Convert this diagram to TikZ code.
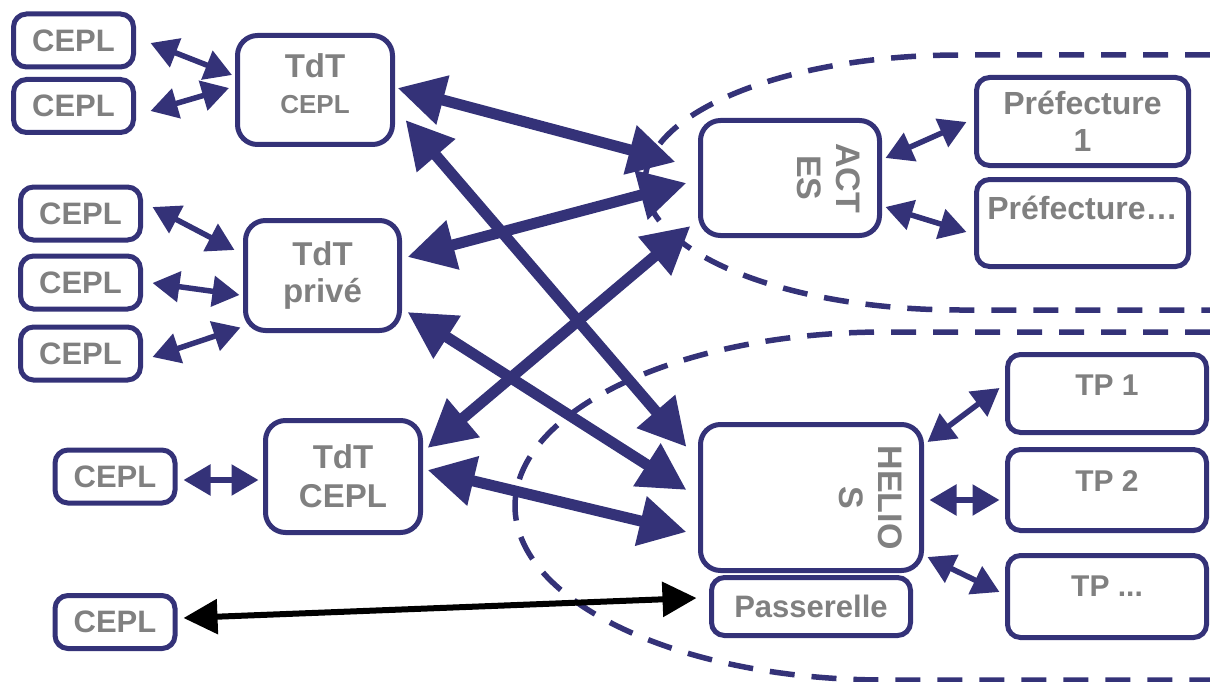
\documentclass[tikz,border=0pt]{standalone}
\usepackage{fontspec}
\setmainfont{Liberation Sans}
\usetikzlibrary{arrows.meta}
\definecolor{navy}{RGB}{52,50,120}
\definecolor{txtgray}{RGB}{128,128,128}

\begin{document}
\begin{tikzpicture}[x=1pt,y=-1pt,
  box/.style={draw=navy,line width=5pt,rounded corners=13pt,fill=white,text=txtgray,
    font=\bfseries\fontsize{31}{36}\selectfont,align=center,inner sep=2pt},
  bigbox/.style={box,rounded corners=20pt},
  thinlink/.style={draw=navy,line width=5.5pt,>={Triangle[length=27pt,width=30pt]},<->},
  thicklink/.style={draw=navy,line width=11pt,>={Triangle[length=47pt,width=48pt]},<->},
  gatelink/.style={draw=black,line width=6pt,>={Triangle[length=34pt,width=34pt]},<->},
  zone/.style={draw=navy,line width=5.5pt,dash pattern=on 25pt off 17pt}]
\useasboundingbox (0,0) rectangle (1210,682);

% draw the two dashed zones
\draw[zone] (1210,55) -- (960,55) arc[start angle=90,end angle=270,x radius=315pt,y radius=127.5pt] -- (1210,310);
\draw[zone] (1210,332) -- (885,332) arc[start angle=90,end angle=270,x radius=370pt,y radius=174pt] -- (1210,680);

% the CEPL boxes on the left
\foreach \n/\x/\y in {cepla/73.5/40.5,ceplb/73.5/106,ceplc/80.5/213.5,cepld/80.5/282.5,
	ceple/80.5/353.5,ceplf/115/476.5,ceplg/115/622}
	\node[box,minimum width=120pt,minimum height=53pt] (\n) at (\x,\y) {CEPL};

% the TdT boxes
\node[bigbox,minimum width=155pt,minimum height=109pt,text depth=12pt] (tdta) at (315,90)
	{\fontsize{33}{33}\selectfont TdT\\\fontsize{26}{26}\selectfont CEPL};
\node[bigbox,minimum width=154pt,minimum height=110pt,font=\bfseries\fontsize{33}{37}\selectfont] (tdtb) at (322.5,275.5) {TdT\\privé};
\node[bigbox,minimum width=155pt,minimum height=112pt,font=\bfseries\fontsize{33}{39}\selectfont] (tdtc) at (343,476.5) {TdT\\CEPL};

% ACTES and HELIOS
\node[bigbox,minimum width=179pt,minimum height=115pt] (actes) at (790,178) {};
\node[bigbox,minimum width=221pt,minimum height=146pt] (helios) at (811,497.5) {};
\node[box,minimum width=199pt,minimum height=58pt] (passer) at (811,606.5) {Passerelle};
\node[rotate=-90,anchor=north,align=center,inner sep=0pt,text=txtgray,
	font=\bfseries\fontsize{34}{39}\selectfont] (actestxt) at ([xshift=-22pt]actes.east) {ACT\\ES};
\node[rotate=-90,anchor=north,align=center,inner sep=0pt,text=txtgray,
	font=\bfseries\fontsize{34}{39}\selectfont] (heliostxt) at ([xshift=-22pt]helios.east) {HELIO\\S};

% the boxes on the right
\node[box,minimum width=212pt,minimum height=88pt,font=\bfseries\fontsize{32}{37}\selectfont] (prefa) at (1082.5,121.5) {Préfecture\\1};
\node[box,minimum width=212pt,minimum height=87pt,font=\bfseries\fontsize{32}{37}\selectfont,text depth=31pt] (prefb) at (1082.5,223) {Préfecture…};
\node[box,minimum width=199pt,minimum height=78pt,font=\bfseries\fontsize{30}{36}\selectfont,text depth=16pt] (tpa) at (1107,393.5) {TP 1};
\node[box,minimum width=199pt,minimum height=81pt,font=\bfseries\fontsize{30}{36}\selectfont,text depth=18pt] (tpb) at (1107,490) {TP 2};
\node[box,minimum width=199pt,minimum height=82pt,font=\bfseries\fontsize{30}{36}\selectfont,text depth=20pt] (tpc) at (1107,596.5) {TP ...};

% thin links
\draw[thinlink] ([shift={(14.5,2.5)}]cepla.east) -- ([shift={(-3,-15)}]tdta.west);
\draw[thinlink] ([shift={(14.5,5)}]ceplb.east) -- ([shift={(-6,-2)}]tdta.west);
\draw[thinlink] ([shift={(9.5,-6.5)}]ceplc.east) -- ([shift={(-8.5,-25.5)}]tdtb.west);
\draw[thinlink] ([shift={(9.5,0.5)}]cepld.east) -- ([shift={(-3.5,19.5)}]tdtb.west);
\draw[thinlink] ([shift={(9.5,3.5)}]ceple.east) -- ([shift={(-2.5,52)}]tdtb.west);
\draw[thinlink] ([shift={(6,3.5)}]ceplf.east) -- ([shift={(-4.5,3.5)}]tdtc.west);
\draw[thinlink] ([shift={(3.5,-20)}]actes.east) -- ([shift={(-7.5,0.5)}]prefa.west);
\draw[thinlink] ([shift={(3.5,29)}]actes.east) -- ([shift={(-7.5,9)}]prefb.west);
\draw[thinlink] ([shift={(3.5,-55.5)}]helios.east) -- ([shift={(-5.5,-5.5)}]tpa.west);
\draw[thinlink] ([shift={(5.5,2.5)}]helios.east) -- ([shift={(-5.5,10)}]tpb.west);
\draw[thinlink] ([shift={(3.5,59.5)}]helios.east) -- ([shift={(-5.5,-4.5)}]tpc.west);

% thick links between the TdT and ACTES / HELIOS
\draw[thicklink] ([shift={(2.5,-2)}]tdta.east) -- ([shift={(-22.5,-16)}]actes.west);
\draw[thicklink] ([shift={(10.5,30)}]tdta.east) -- ([shift={(-11.5,-50.5)}]helios.west);
\draw[thicklink] ([shift={(5.5,-18.5)}]tdtb.east) -- ([shift={(-11.5,5)}]actes.west);
\draw[thicklink] ([shift={(5.5,36.5)}]tdtb.east) -- ([shift={(-11.5,-7.5)}]helios.west);
\draw[thicklink] ([shift={(4.5,-28.5)}]tdtc.east) -- ([shift={(-7.5,48)}]actes.west);
\draw[thicklink] ([shift={(4.5,-6.5)}]tdtc.east) -- ([shift={(-11.5,34.5)}]helios.west);

% the direct link to the gateway
\draw[gatelink] ([shift={(6,-4)}]ceplg.east) -- ([shift={(-12.5,-8.5)}]passer.west);
\end{tikzpicture}
\end{document}
